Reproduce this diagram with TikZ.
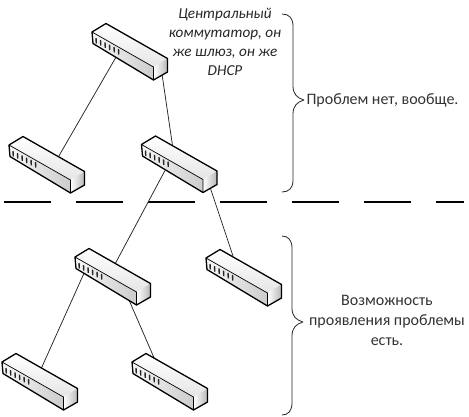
\documentclass[tikz,border=0pt]{standalone}
\usepackage{fontspec}
\setmainfont{Carlito}
\pgfdeclarelayer{links}
\pgfsetlayers{links,main}
\tikzset{
  x=1pt,y=-1pt,
  link/.style={draw=black!85,line width=0.75pt},
  divider/.style={draw=black,line width=2.8pt,dash pattern=on 47pt off 25pt},
  bracebar/.style={draw=black!85,line width=0.8pt,line join=round},
  face/.style={draw=black,line width=1.3pt,line join=round},
  lbl/.style={font=\fontsize{16}{20}\selectfont,align=center,text=black!80},
  note/.style={font=\fontsize{15.2}{19}\selectfont\itshape,align=center,text=black!85},
  switchbox/.pic={
    \coordinate (-a) at (23.5,26);
    \coordinate (-b) at (70,42);
    \coordinate (-c) at (10,14);
    \coordinate (-d) at (54,43);
    \coordinate (-e) at (69,44);
    \coordinate (-t1) at (49,12.5);
    \coordinate (-t2) at (31,1);
    \coordinate (-t3) at (39.5,8);
    \coordinate (-t4) at (27,-2);
    \coordinate (-t5) at (39,7);
    \coordinate (-t6) at (23,-2);
    \shade[top color=white,bottom color=black!10] (0,0)--(14,-8.5)--(75.5,26.5)--(61.5,35)--cycle;
    \shade[left color=black!3,right color=black!20] (0,0)--(61.5,35)--(61.5,48)--(1,11.5)--cycle;
    \shade[left color=white,right color=black!28] (61.5,35)--(75.5,26.5)--(75.5,40)--(61.5,48)--cycle;
    \draw[face] (0,0)--(14,-8.5)--(75.5,26.5)--(75.5,40)--(61.5,48)--(1,11.5)--cycle;
    \draw[black,line width=.7pt] (0,0)--(61.5,35)--(61.5,48);
    \foreach \i in {0,...,5}
      \draw[black!85,line width=1.4pt] (4+4.5*\i,6+2.2*\i)--(4.3+4.5*\i,11.5+2.2*\i);
  },
}
\begin{document}
\begin{tikzpicture}
\useasboundingbox (0,0) rectangle (469,416);
\begin{pgfonlayer}{links}
\fill[white] (0,0) rectangle (469,416);
\end{pgfonlayer}
\coordinate (d1) at (4,202);
\coordinate (d2) at (464,202);
\path (92,32) pic (s1) {switchbox};
\path (9,145) pic (s2) {switchbox};
\path (141.5,144.5) pic (s3) {switchbox};
\path (75,257) pic (s4) {switchbox};
\path (206,258) pic (s5) {switchbox};
\path (2,362) pic (s6) {switchbox};
\path (132,362) pic (s7) {switchbox};
\begin{pgfonlayer}{links}
\draw[divider] (d1)--(d2);
\draw[link] (s1-a)--(s2-t1);
\draw[link] (s1-b)--(s3-t2);
\draw[link] (s3-a)--(s4-t3);
\draw[link] (s3-e)--(s5-t4);
\draw[link] (s4-c)--(s6-t5);
\draw[link] (s4-d)--(s7-t6);
\end{pgfonlayer}
\draw[bracebar] (282,14) .. controls (289,14) and (293,18) .. (293,26) -- (293,86) .. controls (293,94) and (297,98) .. (304,100) .. controls (297,102) and (293,106) .. (293,114) -- (293,180) .. controls (293,188) and (289,192) .. (282,192);
\draw[bracebar] (282,236) .. controls (288,236) and (292,240) .. (292,248) -- (292,308) .. controls (292,316) and (296,320) .. (303,322) .. controls (296,324) and (292,328) .. (292,336) -- (292,403) .. controls (292,411) and (288,415) .. (282,415);
\node[note] (central) at (225,41.5) {Центральный\\коммутатор, он\\же шлюз, он же\\DHCP};
\node[lbl] (none) at (382.5,100) {Проблем нет, вообще.};
\node[lbl] (maybe) at (387,320) {Возможность\\проявления проблемы\\есть.};
\end{tikzpicture}
\end{document}
